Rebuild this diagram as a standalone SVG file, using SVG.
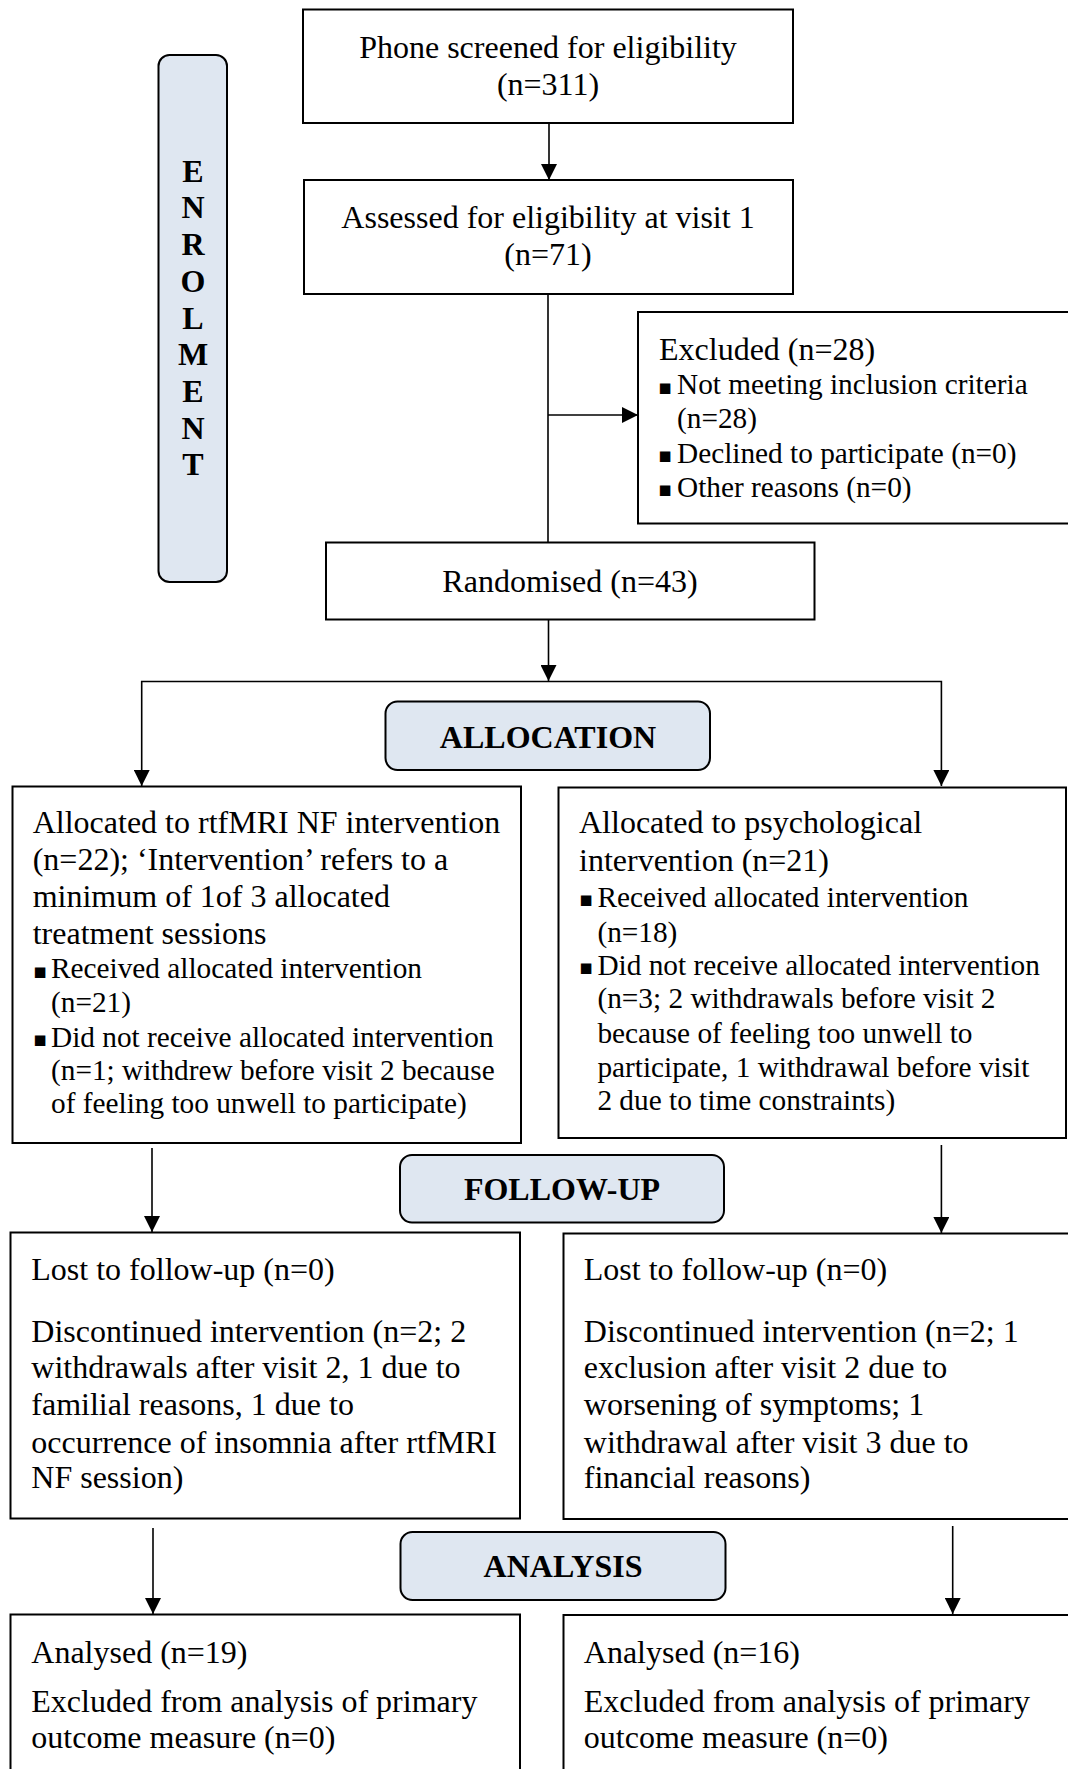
<svg xmlns="http://www.w3.org/2000/svg" width="1068" height="1769" viewBox="0 0 1068 1769">
<defs>
<marker id="ah" markerUnits="userSpaceOnUse" markerWidth="16" markerHeight="16" viewBox="0 0 16 16" refX="16" refY="8" orient="auto">
<path d="M0,0 L16,8 L0,16 Z" fill="#000"/>
</marker>
</defs>
<style>
.box{fill:#fff;stroke:#000;stroke-width:2}
.stage{fill:#dfe7f1;stroke:#000;stroke-width:2}
.t{font-family:"Liberation Serif","Times New Roman",serif;font-size:32px;fill:#000}
.c{text-anchor:middle}
.s{font-family:"Liberation Serif","Times New Roman",serif;font-size:29.3px;fill:#000}
.b{font-family:"Liberation Serif","Times New Roman",serif;font-size:32px;font-weight:bold;fill:#000;text-anchor:middle}
.bul{font-family:"DejaVu Sans",sans-serif;font-size:21px;fill:#000}
.ln{fill:none;stroke:#000;stroke-width:1.6}
.ar{fill:none;stroke:#000;stroke-width:1.6;marker-end:url(#ah)}
</style>
<rect width="1068" height="1769" fill="#fff"/>

<g id="connectors">
<line class="ar" x1="549" y1="123" x2="549" y2="180"/>
<line class="ln" x1="548" y1="294" x2="548" y2="542"/>
<line class="ar" x1="548" y1="415" x2="638" y2="415"/>
<line class="ar" x1="548.5" y1="619" x2="548.5" y2="681"/>
<polyline class="ln" points="141.7,690 141.7,681.5 941.4,681.5 941.4,690"/>
<line class="ar" x1="141.7" y1="690" x2="141.7" y2="786"/>
<line class="ar" x1="941.4" y1="690" x2="941.4" y2="786"/>
<line class="ar" x1="152" y1="1148" x2="152" y2="1232"/>
<line class="ar" x1="941.4" y1="1145" x2="941.4" y2="1233"/>
<line class="ar" x1="153" y1="1528" x2="153" y2="1614"/>
<line class="ar" x1="952.7" y1="1526" x2="952.7" y2="1614"/>
</g>

<g id="enrolment">
<rect class="stage" x="158.5" y="55" width="68.5" height="527" rx="11"/>
<text class="b" x="193" y="181.7">E</text>
<text class="b" x="193" y="218.4">N</text>
<text class="b" x="193" y="255.1">R</text>
<text class="b" x="193" y="291.8">O</text>
<text class="b" x="193" y="328.5">L</text>
<text class="b" x="193" y="365.2">M</text>
<text class="b" x="193" y="401.9">E</text>
<text class="b" x="193" y="438.6">N</text>
<text class="b" x="193" y="475.3">T</text>
</g>

<g id="phone">
<rect class="box" x="303" y="9.5" width="490" height="113.5"/>
<text class="t c" x="548" y="58">Phone screened for eligibility</text>
<text class="t c" x="548" y="95">(n=311)</text>
</g>

<g id="assessed">
<rect class="box" x="304" y="180" width="489" height="114"/>
<text class="t c" x="548" y="228">Assessed for eligibility at visit 1</text>
<text class="t c" x="548" y="265">(n=71)</text>
</g>

<g id="excluded">
<rect class="box" x="638" y="312" width="440" height="211.5"/>
<text class="t" x="659" y="360">Excluded (n=28)</text>
<text class="bul" x="658" y="393.5">▪</text>
<text class="s" x="677" y="394.3">Not meeting inclusion criteria</text>
<text class="s" x="677" y="428">(n=28)</text>
<text class="bul" x="658" y="462">▪</text>
<text class="s" x="677" y="462.7">Declined to participate (n=0)</text>
<text class="bul" x="658" y="496">▪</text>
<text class="s" x="677" y="496.7">Other reasons (n=0)</text>
</g>

<g id="randomised">
<rect class="box" x="326" y="542.5" width="488.5" height="77"/>
<text class="t c" x="570" y="592">Randomised (n=43)</text>
</g>

<g id="allocation">
<rect class="stage" x="385.5" y="701.5" width="324.5" height="68.5" rx="12"/>
<text class="b" x="548" y="747.7">ALLOCATION</text>
</g>

<g id="alloc-left">
<rect class="box" x="12.5" y="786.5" width="508.5" height="356.5"/>
<text class="t" x="32.7" y="833.3">Allocated to rtfMRI NF intervention</text>
<text class="t" x="32.7" y="870">(n=22); ‘Intervention’ refers to a</text>
<text class="t" x="32.7" y="907">minimum of 1of 3 allocated</text>
<text class="t" x="32.7" y="943.5">treatment sessions</text>
<text class="bul" x="33" y="977.5">▪</text>
<text class="s" x="51" y="978.3">Received allocated intervention</text>
<text class="s" x="51" y="1011.7">(n=21)</text>
<text class="bul" x="33" y="1046">▪</text>
<text class="s" x="51" y="1046.7">Did not receive allocated intervention</text>
<text class="s" x="51" y="1080">(n=1; withdrew before visit 2 because</text>
<text class="s" x="51" y="1113.3">of feeling too unwell to participate)</text>
</g>

<g id="alloc-right">
<rect class="box" x="558.5" y="787.5" width="507.5" height="350.5"/>
<text class="t" x="579" y="833">Allocated to psychological</text>
<text class="t" x="579" y="870.7">intervention (n=21)</text>
<text class="bul" x="579" y="906">▪</text>
<text class="s" x="597.4" y="906.7">Received allocated intervention</text>
<text class="s" x="597.4" y="941.7">(n=18)</text>
<text class="bul" x="579" y="974.3">▪</text>
<text class="s" x="597.4" y="975">Did not receive allocated intervention</text>
<text class="s" x="597.4" y="1008.3">(n=3; 2 withdrawals before visit 2</text>
<text class="s" x="597.4" y="1043.3">because of feeling too unwell to</text>
<text class="s" x="597.4" y="1076.7">participate, 1 withdrawal before visit</text>
<text class="s" x="597.4" y="1110">2 due to time constraints)</text>
</g>

<g id="followup">
<rect class="stage" x="400" y="1155" width="324" height="67.5" rx="12"/>
<text class="b" x="562" y="1200">FOLLOW-UP</text>
</g>

<g id="fu-left">
<rect class="box" x="10.5" y="1232.5" width="509.5" height="286"/>
<text class="t" x="31.3" y="1280">Lost to follow-up (n=0)</text>
<text class="t" x="31.3" y="1341.7">Discontinued intervention (n=2; 2</text>
<text class="t" x="31.3" y="1378.3">withdrawals after visit 2, 1 due to</text>
<text class="t" x="31.3" y="1415">familial reasons, 1 due to</text>
<text class="t" x="31.3" y="1452.7">occurrence of insomnia after rtfMRI</text>
<text class="t" x="31.3" y="1488.3">NF session)</text>
</g>

<g id="fu-right">
<rect class="box" x="563.5" y="1233.5" width="515" height="285.5"/>
<text class="t" x="583.8" y="1280">Lost to follow-up (n=0)</text>
<text class="t" x="583.8" y="1341.7">Discontinued intervention (n=2; 1</text>
<text class="t" x="583.8" y="1378.3">exclusion after visit 2 due to</text>
<text class="t" x="583.8" y="1415">worsening of symptoms; 1</text>
<text class="t" x="583.8" y="1452.7">withdrawal after visit 3 due to</text>
<text class="t" x="583.8" y="1488.3">financial reasons)</text>
</g>

<g id="analysis">
<rect class="stage" x="400.5" y="1532" width="325" height="68" rx="12"/>
<text class="b" x="563" y="1576.7">ANALYSIS</text>
</g>

<g id="an-left">
<rect class="box" x="10.5" y="1614.5" width="509.5" height="170"/>
<text class="t" x="31.3" y="1663.3">Analysed (n=19)</text>
<text class="t" x="31.3" y="1711.7">Excluded from analysis of primary</text>
<text class="t" x="31.3" y="1748.3">outcome measure (n=0)</text>
</g>

<g id="an-right">
<rect class="box" x="563.5" y="1615" width="515" height="170"/>
<text class="t" x="583.8" y="1663.3">Analysed (n=16)</text>
<text class="t" x="583.8" y="1711.7">Excluded from analysis of primary</text>
<text class="t" x="583.8" y="1748.3">outcome measure (n=0)</text>
</g>
</svg>
